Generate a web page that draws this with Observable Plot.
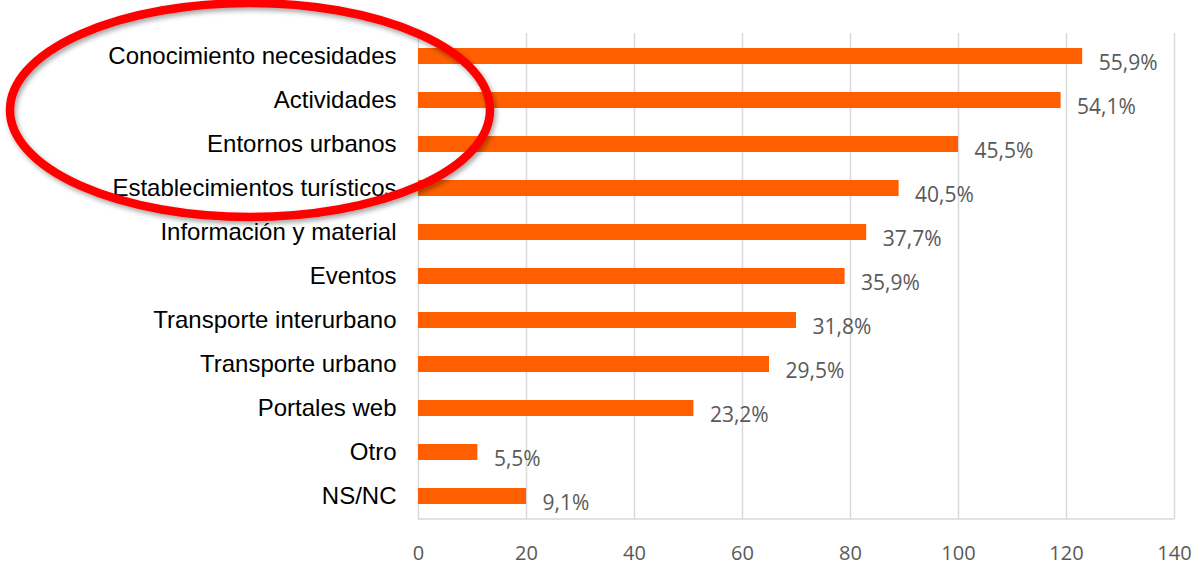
<!DOCTYPE html>
<html>
<head>
<meta charset="utf-8">
<script src="https://cdn.jsdelivr.net/npm/d3@7"></script>
<script src="https://cdn.jsdelivr.net/npm/@observablehq/plot@0.6"></script>
<style>
  html, body { margin: 0; padding: 0; background: #fff; }
  #chart { width: 1200px; height: 569px; }
</style>
</head>
<body>
<div id="chart"></div>
<script>
const categories = [
  "Conocimiento necesidades", "Actividades", "Entornos urbanos",
  "Establecimientos turísticos", "Información y material", "Eventos",
  "Transporte interurbano", "Transporte urbano", "Portales web", "Otro", "NS/NC"
];
const counts = [123, 119, 100, 89, 83, 79, 70, 65, 51, 11, 20];
const pctLabels = ["55,9%", "54,1%", "45,5%", "40,5%", "37,7%", "35,9%", "31,8%", "29,5%", "23,2%", "5,5%", "9,1%"];
const xTicks = [0, 20, 40, 60, 80, 100, 120, 140];

const data = categories.map((c, i) => ({cat: c, value: counts[i], label: pctLabels[i]}));

const bottomLine = (index, scales, values, dimensions) => {
  const ns = "http://www.w3.org/2000/svg";
  const line = document.createElementNS(ns, "line");
  const {height, marginBottom} = dimensions;
  const y = height - marginBottom;
  line.setAttribute("x1", scales.x(0));
  line.setAttribute("x2", scales.x(140));
  line.setAttribute("y1", y);
  line.setAttribute("y2", y);
  line.setAttribute("stroke", "#d9d9d9");
  line.setAttribute("stroke-width", 1.5);
  return line;
};

const ellipseMark = () => {
  const ns = "http://www.w3.org/2000/svg";
  const g = document.createElementNS(ns, "g");
  g.innerHTML = `
    <defs><filter id="sh" x="-10%" y="-10%" width="120%" height="130%">
      <feDropShadow dx="2" dy="3" stdDeviation="2.5" flood-color="#000" flood-opacity="0.35"/>
    </filter></defs>
    <ellipse cx="250" cy="110" rx="240" ry="107" fill="none" stroke="#ff0000" stroke-width="8.5" filter="url(#sh)"/>`;
  return g;
};

const chart = Plot.plot({
  width: 1200,
  height: 569,
  marginLeft: 418,
  marginRight: 26,
  marginTop: 33,
  marginBottom: 50,
  style: {fontFamily: "'Open Sans', sans-serif", background: "#fff", overflow: "visible"},
  x: {domain: [0, 140], ticks: xTicks, label: null, tickSize: 0, tickPadding: 26},
  y: {domain: categories, paddingInner: 0.64, paddingOuter: 0.32, label: null, tickSize: 0, tickPadding: 22},
  marks: [
    Plot.ruleX(xTicks, {stroke: "#d9d9d9", strokeWidth: 1.5}),
    bottomLine,
    Plot.barX(data, {x: "value", y: "cat", fill: "#ff5f00"}),
    Plot.text(data, {x: "value", y: "cat", text: "label", textAnchor: "start", dx: 16, dy: 7,
      fill: "#595959", fontSize: 21, fontFamily: "'Open Sans', sans-serif"}),
    Plot.axisX({ticks: xTicks, tickSize: 0, tickPadding: 26, fontSize: 20, fill: "#595959", label: null, anchor: "bottom"}),
    Plot.axisY({tickSize: 0, tickPadding: 22, fontSize: 24, fill: "#000", label: null,
      fontFamily: "'Liberation Sans', Arial, sans-serif"}),
    ellipseMark
  ]
});
document.getElementById("chart").appendChild(chart);
</script>
</body>
</html>
